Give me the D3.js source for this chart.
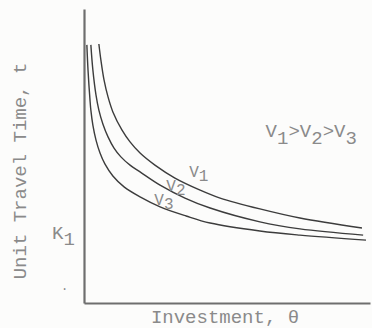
<!DOCTYPE html>
<html>
<head>
<meta charset="utf-8">
<script src="https://cdn.jsdelivr.net/npm/d3@7"></script>
<style>
  body { margin: 0; background: #fcfcfb; }
  svg { display: block; }
  text { font-family: "Liberation Mono", "DejaVu Sans Mono", monospace; fill: #8a8a8a; }
</style>
</head>
<body>
<svg id="chart"></svg>
<script>
// values (theta and t in plot units 0..10)
const seriesNames = ["V1", "V2", "V3"];
const v1Theta = [0.52, 0.59, 0.70, 0.84, 1.01, 1.33, 1.61, 1.96, 2.48, 3.18, 4.06, 4.76, 6.15, 7.55, 9.72];
const v1Time  = [8.81, 8.27, 7.59, 7.01, 6.50, 5.88, 5.48, 5.10, 4.69, 4.25, 3.84, 3.57, 3.20, 2.89, 2.55];
const v2Theta = [0.24, 0.31, 0.42, 0.52, 0.66, 0.84, 1.05, 1.29, 1.61, 1.96, 2.66, 3.53, 4.41, 6.15, 7.55, 9.76];
const v2Time  = [8.78, 7.93, 7.07, 6.56, 6.09, 5.65, 5.27, 4.97, 4.69, 4.46, 4.01, 3.57, 3.23, 2.76, 2.52, 2.31];
const v3Theta = [0.10, 0.14, 0.21, 0.24, 0.31, 0.42, 0.56, 0.73, 1.01, 1.40, 1.96, 2.66, 3.57, 4.41, 6.15, 7.55, 9.86];
const v3Time  = [8.78, 7.93, 6.90, 6.56, 6.05, 5.54, 5.10, 4.73, 4.32, 3.95, 3.61, 3.27, 2.96, 2.72, 2.45, 2.31, 2.14];
const k1Value = 2.0;

const width = 372, height = 328;
const margin = { top: 9, right: 2, bottom: 25, left: 84 };

const svg = d3.select("#chart")
  .attr("width", width)
  .attr("height", height);

const x = d3.scaleLinear()
  .domain([0, 10])
  .range([margin.left, width - margin.right]);

const y = d3.scaleLinear()
  .domain([0, 10])
  .range([height - margin.bottom, margin.top]);

const series = [
  { name: seriesNames[0], theta: v1Theta, time: v1Time },
  { name: seriesNames[1], theta: v2Theta, time: v2Time },
  { name: seriesNames[2], theta: v3Theta, time: v3Time }
];

const line = d3.line()
  .x(d => x(d[0]))
  .y(d => y(d[1]))
  .curve(d3.curveCatmullRom.alpha(0.5));

svg.selectAll("path.curve")
  .data(series)
  .enter()
  .append("path")
  .attr("class", "curve")
  .attr("d", s => line(s.theta.map((t, i) => [t, s.time[i]])))
  .attr("fill", "none")
  .attr("stroke", "#3c3c3c")
  .attr("stroke-width", 1.4);

// axes: bare lines, no ticks
svg.append("g")
  .attr("transform", `translate(0,${y(0)})`)
  .call(d3.axisBottom(x).tickValues([]).tickSizeOuter(0));
svg.append("g")
  .attr("transform", `translate(${x(0)},0)`)
  .call(d3.axisLeft(y).tickValues([]).tickSizeOuter(0));
svg.selectAll(".domain")
  .attr("stroke", "#6e6e6e")
  .attr("stroke-width", 2.2);

// axis titles
svg.append("text")
  .attr("x", 225)
  .attr("y", 323)
  .attr("text-anchor", "middle")
  .style("font-size", "19px")
  .text("Investment, \u03b8");

svg.append("text")
  .attr("transform", "translate(26,171) rotate(-90)")
  .attr("text-anchor", "middle")
  .style("font-size", "19px")
  .text("Unit Travel Time, t");

// K1 on the t axis
const k1 = svg.append("text")
  .attr("x", x(0) - 32)
  .attr("y", y(k1Value) - 5)
  .style("font-size", "19px");
k1.append("tspan").text("K");
k1.append("tspan").attr("dy", 6).text("1");

svg.append("text")
  .attr("x", 61)
  .attr("y", 290)
  .style("font-size", "12px")
  .text(".");

// V1>V2>V3 note
const note = svg.append("text")
  .attr("x", x(6.35))
  .attr("y", y(5.65))
  .style("font-size", "19px");
note.append("tspan").text("V");
note.append("tspan").attr("dy", 7).text("1");
note.append("tspan").attr("dy", -7).text(">V");
note.append("tspan").attr("dy", 7).text("2");
note.append("tspan").attr("dy", -7).text(">V");
note.append("tspan").attr("dy", 7).text("3");

// curve labels
const curveLabels = [
  { name: "V", sub: "1", theta: 3.68, time: 4.28 },
  { name: "V", sub: "2", theta: 2.88, time: 3.80 },
  { name: "V", sub: "3", theta: 2.46, time: 3.35 }
];
curveLabels.forEach(l => {
  const t = svg.append("text")
    .attr("x", x(l.theta))
    .attr("y", y(l.time))
    .style("font-size", "16px");
  t.append("tspan").text(l.name);
  t.append("tspan").attr("dy", 4).text(l.sub);
});
</script>
</body>
</html>
